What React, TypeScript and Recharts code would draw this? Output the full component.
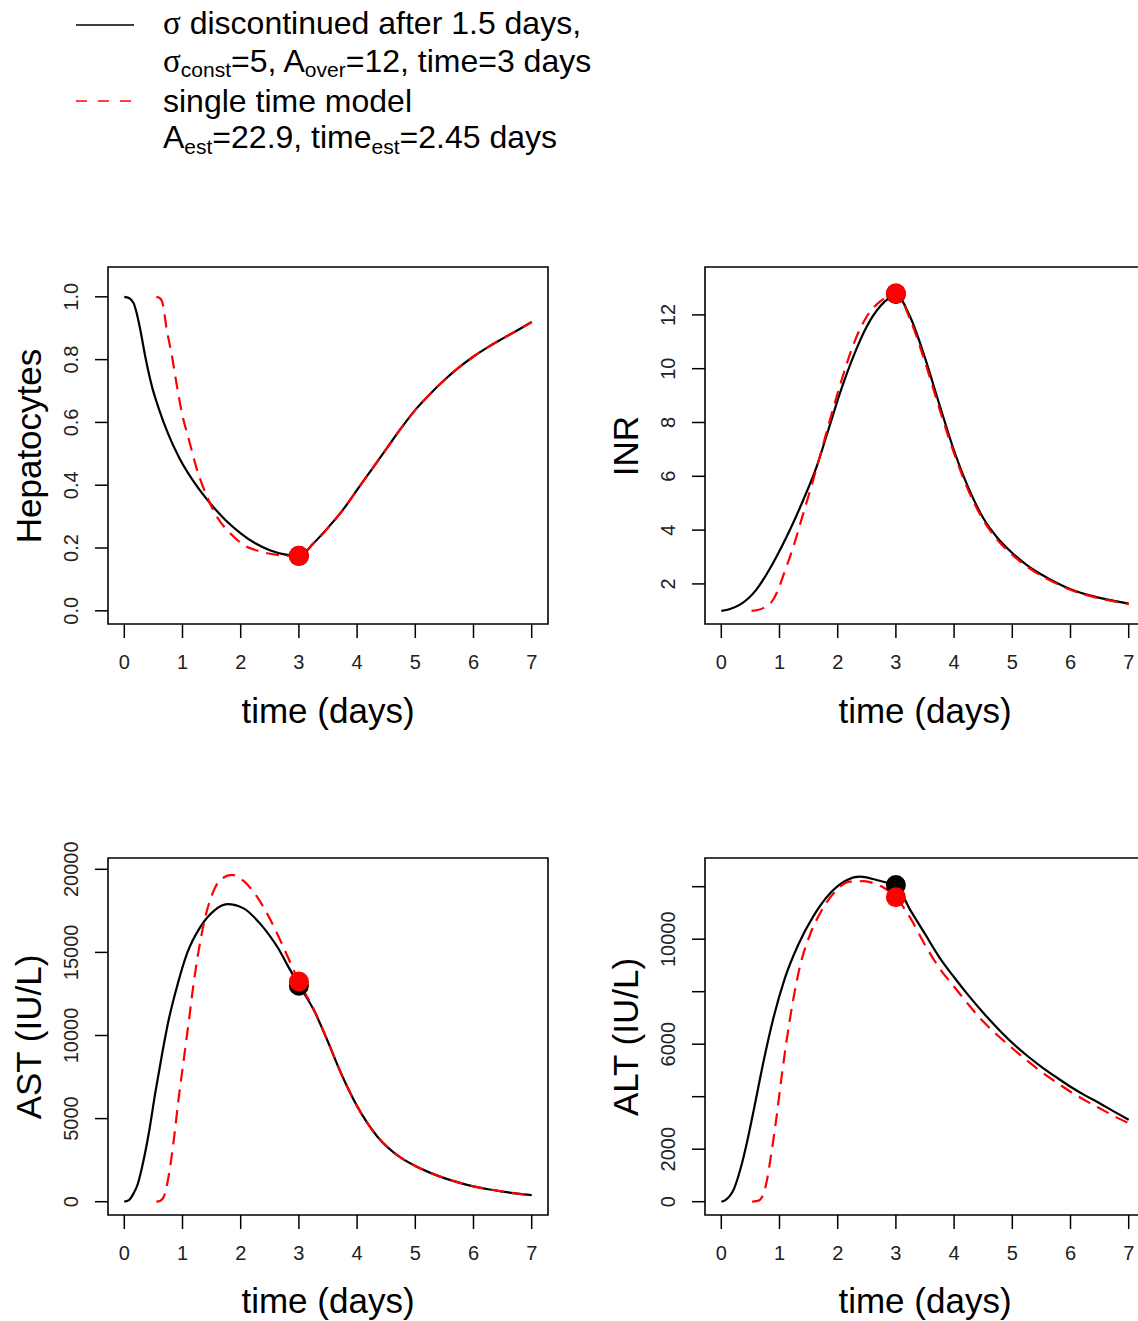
import React from "react";
import { ComposedChart, Line, Scatter, XAxis, YAxis, ReferenceArea } from "recharts";

// Cuatro paneles estilo R base: caja negra, ticks hacia fuera, etiquetas Y giradas.
const FONT = '"Liberation Sans", Arial, Helvetica, sans-serif';

const DAY_TICKS = [0, 1, 2, 3, 4, 5, 6, 7];
const X_DOMAIN: [number, number] = [-0.28, 7.28];

// tramo común tras el día 3
const T_AFTER = [3.25, 3.5, 3.75, 4, 4.25, 4.5, 4.75, 5, 5.25, 5.5, 5.75, 6, 6.25, 6.5, 6.75, 7];

// Hepatocitos
const HEP_BLACK_T = [0, 0.08, 0.16, 0.21, 0.275, 0.36, 0.476, 0.6, 0.75, 0.95, 1.25, 1.5, 1.75, 2, 2.25, 2.5, 2.75, 3, ...T_AFTER];
const HEP_BLACK = [
  1.0, 0.996, 0.98, 0.95, 0.895, 0.81, 0.714, 0.64, 0.565, 0.485, 0.396, 0.337, 0.287, 0.247, 0.215, 0.193, 0.18, 0.175,
  0.215, 0.265, 0.32, 0.385, 0.45, 0.515, 0.58, 0.64, 0.69, 0.735, 0.775, 0.81, 0.84, 0.867, 0.893, 0.92,
];
const HEP_RED_T = [0.55, 0.6, 0.65, 0.73, 0.82, 0.906, 0.99, 1.11, 1.25, 1.42, 1.59, 1.82, 2.05, 2.34, 2.63, 2.85, 3, ...T_AFTER];
const HEP_RED = [
  1.0, 0.997, 0.985, 0.895, 0.81, 0.714, 0.63, 0.545, 0.449, 0.364, 0.3, 0.247, 0.21, 0.189, 0.178, 0.175, 0.175,
  0.214, 0.264, 0.32, 0.385, 0.45, 0.515, 0.58, 0.64, 0.69, 0.735, 0.775, 0.81, 0.84, 0.867, 0.893, 0.92,
];

// INR
const INR_BLACK_T = [0, 0.15, 0.32, 0.6, 0.89, 1.18, 1.41, 1.64, 1.84, 2.04, 2.27, 2.5, 2.73, 2.88, 3, ...T_AFTER];
const INR_BLACK = [
  1.0, 1.07, 1.23, 1.78, 2.78, 4.01, 5.13, 6.37, 7.73, 9.1, 10.46, 11.57, 12.32, 12.62, 12.75,
  11.9, 10.4, 8.65, 6.95, 5.55, 4.45, 3.7, 3.15, 2.7, 2.35, 2.05, 1.8, 1.62, 1.48, 1.37, 1.27,
];
const INR_RED_T = [0.52, 0.62, 0.72, 0.89, 0.97, 1.06, 1.24, 1.41, 1.58, 1.72, 1.9, 2.07, 2.27, 2.5, 2.73, 2.88, 3, ...T_AFTER];
const INR_RED = [
  1.0, 1.03, 1.1, 1.41, 1.75, 2.28, 3.4, 4.63, 5.87, 6.95, 8.35, 9.6, 10.9, 11.94, 12.5, 12.72, 12.8,
  11.8, 10.25, 8.5, 6.85, 5.45, 4.38, 3.62, 3.08, 2.65, 2.3, 2.02, 1.78, 1.6, 1.46, 1.35, 1.25,
];

// AST
const AST_BLACK_T = [
  0, 0.08, 0.16, 0.23, 0.3, 0.42, 0.53, 0.65, 0.76, 0.91, 1.08, 1.31, 1.54, 1.77, 2.05, 2.34, 2.5, 2.65, 2.8, 3,
  3.26, 3.49, 3.72, 4, 4.35, 4.75, 5, 5.25, 5.5, 5.75, 6, 6.25, 6.5, 6.75, 7,
];
const AST_BLACK = [
  0, 100, 500, 1050, 2000, 4100, 6500, 8900, 10900, 13000, 14950, 16550, 17500, 17900, 17650, 16700, 16000, 15220, 14250, 13050,
  11500, 9700, 7760, 5750, 3910, 2650, 2150, 1750, 1420, 1150, 920, 750, 610, 490, 400,
];
const AST_RED_T = [
  0.55, 0.62, 0.68, 0.76, 0.85, 0.93, 1.02, 1.11, 1.19, 1.28, 1.39, 1.54, 1.68, 1.85, 2.05, 2.28, 2.57, 2.8, 3,
  3.26, 3.49, 3.72, 4, 4.35, 4.75, 5, 5.25, 5.5, 5.75, 6, 6.25, 6.5, 6.75, 7,
];
const AST_RED = [
  0, 60, 300, 1500, 3700, 6100, 8500, 10900, 13100, 15150, 17100, 18750, 19450, 19660, 19300, 18350, 16550, 14800, 13250,
  11550, 9700, 7760, 5750, 3910, 2650, 2150, 1750, 1420, 1150, 920, 750, 610, 490, 400,
];

// ALT
const ALT_BLACK_T = [0, 0.07, 0.14, 0.22, 0.29, 0.36, 0.43, 0.57, 0.72, 0.89, 1.09, 1.32, 1.58, 1.87, 2.16, 2.38, 2.67, 2.85, 3, ...T_AFTER];
const ALT_BLACK = [
  0, 60, 200, 500, 950, 1500, 2150, 3630, 5280, 6950, 8500, 9780, 10870, 11750, 12255, 12380, 12255, 12150, 12050,
  11100, 10200, 9300, 8550, 7850, 7200, 6600, 6050, 5570, 5140, 4750, 4380, 4050, 3750, 3430, 3120,
];
const ALT_RED_T = [0.53, 0.6, 0.66, 0.76, 0.86, 0.95, 1.03, 1.12, 1.24, 1.35, 1.52, 1.7, 1.93, 2.21, 2.45, 2.62, 2.8, 3, ...T_AFTER];
const ALT_RED = [
  0, 20, 63, 571, 1844, 3240, 4650, 6100, 7750, 8950, 10150, 11000, 11750, 12190, 12210, 12130, 11950, 11600,
  10800, 9780, 8890, 8190, 7500, 6860, 6330, 5845, 5380, 4950, 4560, 4190, 3860, 3560, 3260, 2990,
];

// puntos al tiempo de observación (día 3): [negro, rojo]
const DOT_T = 3;
const HEP_DOTS = [0.175, 0.175];
const INR_DOTS = [12.78, 12.8];
const AST_DOTS = [13000, 13250];
const ALT_DOTS = [12060, 11600];

// ejes Y
const HEP_TICKS = [0, 0.2, 0.4, 0.6, 0.8, 1.0];
const HEP_TICK_LABELS = ["0.0", "0.2", "0.4", "0.6", "0.8", "1.0"];
const INR_TICKS = [2, 4, 6, 8, 10, 12];
const INR_TICK_LABELS = ["2", "4", "6", "8", "10", "12"];
const AST_TICKS = [0, 5000, 10000, 15000, 20000];
const AST_TICK_LABELS = ["0", "5000", "10000", "15000", "20000"];
const ALT_TICKS = [0, 2000, 4000, 6000, 8000, 10000, 12000];
const ALT_TICK_LABELS = ["0", "2000", "", "6000", "", "10000", ""];

const zip = (ts: number[], vs: number[]) => ts.map((t, i) => ({ t, v: vs[i] }));

function XTick({ x = 0, y = 0, payload }: any) {
  return (
    <text x={x} y={y + 24} textAnchor="middle" dominantBaseline="central" fontSize={20} fill="#222" fontFamily={FONT}>
      {payload?.value}
    </text>
  );
}

function makeYTick(labels: string[]) {
  return function YTick({ x = 0, y = 0, index = 0 }: any) {
    const cx = x - 24;
    return (
      <text
        x={cx}
        y={y}
        transform={`rotate(-90, ${cx}, ${y})`}
        textAnchor="middle"
        dominantBaseline="central"
        fontSize={20}
        fill="#222"
        fontFamily={FONT}
      >
        {labels[index]}
      </text>
    );
  };
}

const Dot = (color: string) => (p: any) => <circle cx={p.cx} cy={p.cy} r={10} fill={color} />;

interface PanelProps {
  left: number;
  top: number;
  plotLeft: number;
  plotTop: number;
  yDomain: [number, number];
  yTicks: number[];
  yLabels: string[];
  black: { t: number; v: number }[];
  red: { t: number; v: number }[];
  dots: number[];
}

function Panel({ left, top, plotLeft, plotTop, yDomain, yTicks, yLabels, black, red, dots }: PanelProps) {
  const W = 560;
  const H = 480;
  const YW = 60;
  const XH = 60;
  const margin = {
    left: plotLeft - YW,
    right: W - plotLeft - 440,
    top: plotTop,
    bottom: H - plotTop - 357 - XH,
  };
  return (
    <div style={{ position: "absolute", left, top, width: W, height: H }}>
      <ComposedChart width={W} height={H} margin={margin}>
        <XAxis
          dataKey="t"
          type="number"
          domain={X_DOMAIN}
          ticks={DAY_TICKS}
          interval={0}
          allowDataOverflow
          axisLine={false}
          tickSize={14}
          tickMargin={0}
          tickLine={{ stroke: "#000", strokeWidth: 1.5 }}
          tick={<XTick />}
          height={XH}
        />
        <YAxis
          type="number"
          domain={yDomain}
          ticks={yTicks}
          interval={0}
          allowDataOverflow
          axisLine={false}
          tickSize={13}
          tickMargin={0}
          tickLine={{ stroke: "#000", strokeWidth: 1.5 }}
          tick={React.createElement(makeYTick(yLabels))}
          width={YW}
        />
        <ReferenceArea
          x1={X_DOMAIN[0]}
          x2={X_DOMAIN[1]}
          y1={yDomain[0]}
          y2={yDomain[1]}
          fill="none"
          stroke="#000"
          strokeWidth={1.6}
          ifOverflow="visible"
        />
        <Line data={black} dataKey="v" type="monotone" stroke="#000" strokeWidth={2.2} dot={false} activeDot={false} isAnimationActive={false} />
        <Scatter data={[{ t: DOT_T, v: dots[0] }]} dataKey="v" shape={Dot("#000")} isAnimationActive={false} />
        <Line data={red} dataKey="v" type="monotone" stroke="#ff0000" strokeWidth={2.2} strokeDasharray="13 8" dot={false} activeDot={false} isAnimationActive={false} />
        <Scatter data={[{ t: DOT_T, v: dots[1] }]} dataKey="v" shape={Dot("#ff0000")} isAnimationActive={false} />
      </ComposedChart>
    </div>
  );
}

function Title({ x, y, text, rotate }: { x: number; y: number; text: string; rotate?: boolean }) {
  return (
    <div
      style={{
        position: "absolute",
        left: x,
        top: y,
        transform: `translate(-50%, -50%)${rotate ? " rotate(-90deg)" : ""}`,
        fontFamily: FONT,
        fontSize: 35,
        whiteSpace: "nowrap",
        lineHeight: 1,
        color: "#000",
      }}
    >
      {text}
    </div>
  );
}

function Legend() {
  const sub = { fontSize: 21 };
  const sigma = { fontFamily: '"Liberation Serif", "DejaVu Serif", serif', fontSize: 33 };
  return (
    <svg width={640} height={160} style={{ position: "absolute", left: 0, top: 0 }} fontFamily={FONT} fontSize={32}>
      <line x1={76} x2={134} y1={25} y2={25} stroke="#000" strokeWidth={1.6} />
      <text x={163} y={34}>
        <tspan style={sigma}>σ</tspan> discontinued after 1.5 days,
      </text>
      <text x={163} y={72}>
        <tspan style={sigma}>σ</tspan>
        <tspan dy={5} style={sub}>const</tspan>
        <tspan dy={-5}>=5, A</tspan>
        <tspan dy={5} style={sub}>over</tspan>
        <tspan dy={-5}>=12, time=3 days</tspan>
      </text>
      <line x1={76} x2={134} y1={101} y2={101} stroke="#ff0000" strokeWidth={1.6} strokeDasharray="11 11" />
      <text x={163} y={112}>single time model</text>
      <text x={163} y={148}>
        A<tspan dy={6} style={sub}>est</tspan>
        <tspan dy={-6}>=22.9, time</tspan>
        <tspan dy={6} style={sub}>est</tspan>
        <tspan dy={-6}>=2.45 days</tspan>
      </text>
    </svg>
  );
}

export default function App() {
  return (
    <div
      style={{
        position: "absolute",
        left: 0,
        top: 0,
        width: 1138,
        height: 1321,
        overflow: "hidden",
        background: "#fff",
      }}
    >
      <Legend />
      <Panel
        left={0}
        top={240}
        plotLeft={108}
        plotTop={27}
        yDomain={[-0.042, 1.095]}
        yTicks={HEP_TICKS}
        yLabels={HEP_TICK_LABELS}
        black={zip(HEP_BLACK_T, HEP_BLACK)}
        red={zip(HEP_RED_T, HEP_RED)}
        dots={HEP_DOTS}
      />
      <Panel
        left={600}
        top={240}
        plotLeft={105}
        plotTop={27}
        yDomain={[0.51, 13.78]}
        yTicks={INR_TICKS}
        yLabels={INR_TICK_LABELS}
        black={zip(INR_BLACK_T, INR_BLACK)}
        red={zip(INR_RED_T, INR_RED)}
        dots={INR_DOTS}
      />
      <Panel
        left={0}
        top={830}
        plotLeft={108}
        plotTop={28}
        yDomain={[-800, 20680]}
        yTicks={AST_TICKS}
        yLabels={AST_TICK_LABELS}
        black={zip(AST_BLACK_T, AST_BLACK)}
        red={zip(AST_RED_T, AST_RED)}
        dots={AST_DOTS}
      />
      <Panel
        left={600}
        top={830}
        plotLeft={105}
        plotTop={28}
        yDomain={[-507, 13093]}
        yTicks={ALT_TICKS}
        yLabels={ALT_TICK_LABELS}
        black={zip(ALT_BLACK_T, ALT_BLACK)}
        red={zip(ALT_RED_T, ALT_RED)}
        dots={ALT_DOTS}
      />
      <Title x={328} y={710} text="time (days)" />
      <Title x={925} y={710} text="time (days)" />
      <Title x={328} y={1300} text="time (days)" />
      <Title x={925} y={1300} text="time (days)" />
      <Title x={28} y={446} text="Hepatocytes" rotate />
      <Title x={625} y={446} text="INR" rotate />
      <Title x={28} y={1037} text="AST (IU/L)" rotate />
      <Title x={625} y={1037} text="ALT (IU/L)" rotate />
    </div>
  );
}
